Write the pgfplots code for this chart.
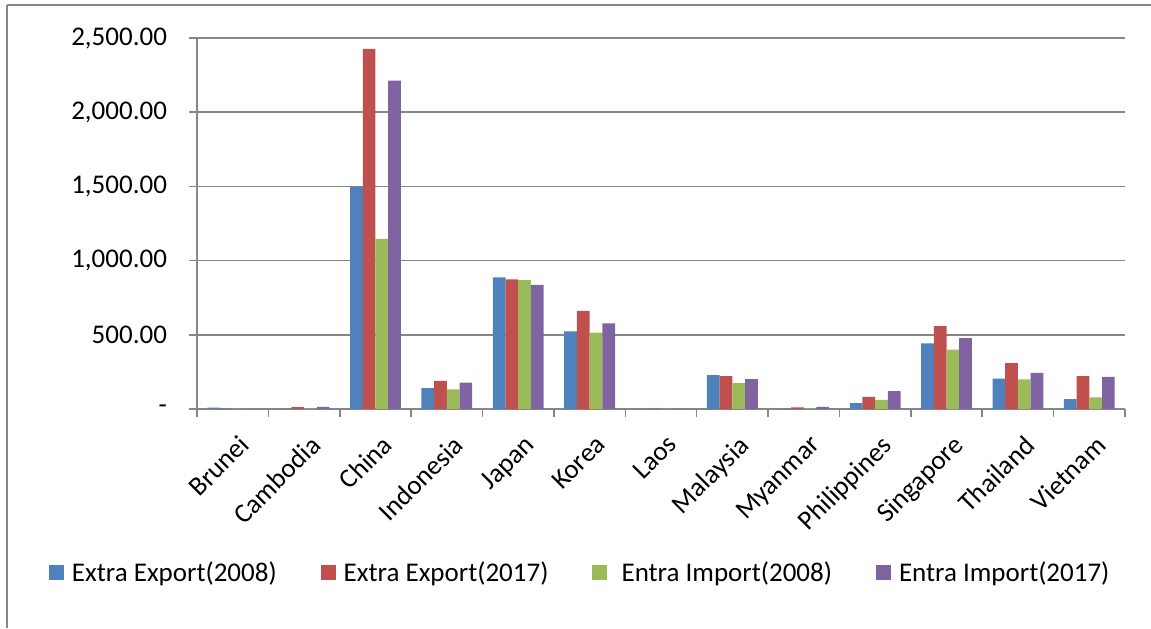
\documentclass[border=0pt]{standalone}
\usepackage{pgfplots}
\pgfplotsset{compat=1.18}
\usepackage{fontspec}
\setmainfont{Carlito}
\definecolor{cBlue}{HTML}{4F81BD}
\definecolor{cRed}{HTML}{C0504D}
\definecolor{cGreen}{HTML}{9BBB59}
\definecolor{cPurple}{HTML}{8064A2}
\definecolor{axgray}{HTML}{868686}
\newcommand{\cf}{\fontsize{13.5pt}{16pt}\selectfont}
\begin{document}
\begin{tikzpicture}
\useasboundingbox (0,0) rectangle (575.5pt,314pt);
\draw[axgray, line width=0.8pt] (3.5pt,311.5pt) -- (575.5pt,311.5pt);
\draw[axgray, line width=0.8pt] (3.5pt,311.5pt) -- (3.5pt,0pt);
\begin{axis}[
  at={(98.5pt,109.5pt)}, anchor=south west,
  scale only axis=true,
  width=464pt, height=185.5pt,
  ybar=0pt, bar width=6.35pt,
  xmin=-0.5, xmax=12.5, ymin=0, ymax=2500,
  axis lines*=left,
  axis line style={axgray, line width=0.8pt},
  xtick={0,...,12},
  xticklabels={Brunei,Cambodia,China,Indonesia,Japan,Korea,Laos,Malaysia,Myanmar,Philippines,Singapore,Thailand,Vietnam},
  major x tick style={draw=none},
  minor xtick={-0.5,0.5,...,12.5},
  minor x tick style={axgray, line width=0.8pt},
  minor tick length=4pt,
  xtick pos=bottom, tick align=outside,
  ytick={0,500,...,2500},
  yticklabels={{-\hspace{7pt}},{500.00},{1,000.00},{1,500.00},{2,000.00},{2,500.00}},
  ytick style={axgray, line width=0.8pt},
  major tick length=4pt,
  ymajorgrids=true,
  grid style={axgray, line width=0.8pt},
  yticklabel style={font=\cf, anchor=east, xshift=-7.5pt, text=black},
  xticklabel style={font=\cf, rotate=45, anchor=north east, inner sep=1pt, xshift=-3pt, yshift=-6.5pt, text=black},
  legend columns=4,
  legend style={draw=none, font=\cf, at={(0.414,-0.442)}, anchor=center,
    /tikz/every odd column/.append style={column sep=2pt},
    /tikz/every even column/.append style={column sep=20pt}},
  legend image code/.code={\fill[#1] (0pt,-3.75pt) rectangle (7.5pt,3.75pt);},
  every axis plot/.append style={draw=none},
]
\addplot[fill=cBlue] coordinates {(0,9) (1,2) (2,1497) (3,141) (4,887) (5,523) (6,1) (7,229) (8,2) (9,40) (10,442) (11,204) (12,67)};
\addplot[fill=cRed] coordinates {(0,3) (1,13) (2,2426) (3,189) (4,874) (5,662) (6,3) (7,222) (8,11) (9,81) (10,559) (11,310) (12,222)};
\addplot[fill=cGreen] coordinates {(0,1) (1,2) (2,1146) (3,133) (4,869) (5,514) (6,1) (7,175) (8,2) (9,61) (10,400) (11,200) (12,79)};
\addplot[fill=cPurple] coordinates {(0,1) (1,14) (2,2212) (3,177) (4,836) (5,577) (6,2) (7,202) (8,14) (9,121) (10,478) (11,243) (12,216)};
\legend{Extra Export(2008),Extra Export(2017),{\ Entra Import(2008)},Entra Import(2017)}
\end{axis}
\end{tikzpicture}
\end{document}
